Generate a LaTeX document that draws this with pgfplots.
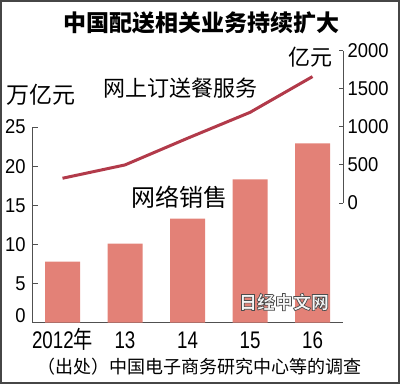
\documentclass[border=0pt]{standalone}
\usepackage{fontspec}
\setmainfont{Liberation Sans}
\newfontfamily\cjk{Noto Sans CJK SC}
\newfontfamily\numf[FakeStretch=0.92]{Liberation Sans}
\newfontfamily\xnum[FakeStretch=0.78]{Liberation Sans}
\newfontfamily\xcjk[FakeStretch=0.8]{Noto Sans CJK SC}
\usepackage{pgfplots}
\pgfplotsset{compat=1.18}
\definecolor{barc}{RGB}{227,129,119}
\definecolor{linec}{RGB}{178,58,74}
\definecolor{axc}{RGB}{80,80,80}
\definecolor{framec}{RGB}{70,70,70}
\begin{document}
\begin{tikzpicture}[x=1bp,y=1bp]
\path[use as bounding box] (0,0) rectangle (400,384);
% bars (left axis)
\begin{axis}[at={(32bp,61.3bp)}, anchor=south west,
  scale only axis, width=311bp, height=195.7bp,
  xmin=-0.488, xmax=4.488, ymin=0, ymax=25,
  axis x line=bottom, axis y line=left,
  axis line style={-, line width=0.9bp, color=axc},
  tick align=inside, major tick length=6bp,
  every tick/.style={axc, line width=0.9bp},
  /pgf/number format/assume math mode=true,
  /pgf/number format/1000 sep={},
  xtick={0,1,2,3,4},
  xticklabels={2012{\xcjk 年},13,14,15,16},
  x tick style={draw=none},
  xticklabel style={font=\xnum\fontsize{24bp}{24bp}\selectfont, anchor=base, inner sep=0pt, yshift=-25.5bp},
  ytick={5,10,15,20,25},
  extra y ticks={0},
  extra y tick style={yticklabel style={yshift=7.5bp}},
  yticklabel style={font=\numf\fontsize{20bp}{20bp}\selectfont, anchor=east, inner sep=0pt, xshift=-6.3bp},
  clip=false]
\addplot[ybar, bar width=35bp, fill=barc, draw=none] coordinates {
  (0,7.8) (1,10.1) (2,13.3) (3,18.3) (4,22.9)};
\end{axis}
% line (right axis)
\begin{axis}[at={(32bp,181bp)}, anchor=south west,
  scale only axis, width=311bp, height=152.3bp,
  xmin=-0.488, xmax=4.488, ymin=0, ymax=2000,
  axis x line=none, axis y line=right,
  axis line style={-, line width=0.9bp, color=axc},
  tick align=inside, major tick length=4bp,
  every tick/.style={axc, line width=0.9bp},
  /pgf/number format/assume math mode=true,
  /pgf/number format/1000 sep={},
  ytick={0,500,1000,1500,2000},
  yticklabel style={font=\numf\fontsize{20bp}{20bp}\selectfont, anchor=west, inner sep=0pt, xshift=4.5bp},
  clip=false]
\addplot[linec, line width=3bp, no marks] coordinates {
  (0,325) (1,500) (2,850) (3,1190) (4,1660)};
\end{axis}
% texts
\node[font=\cjk\bfseries\fontsize{23bp}{23bp}\selectfont] at (202,361.5) {中国配送相关业务持续扩大};
\node[font=\cjk\fontsize{22bp}{22bp}\selectfont] at (310,326.5) {亿元};
\node[font=\cjk\fontsize{23bp}{23bp}\selectfont] at (41,289) {万亿元};
\node[font=\cjk\fontsize{22bp}{22bp}\selectfont] at (180.5,296) {网上订送餐服务};
\node[font=\cjk\fontsize{24bp}{24bp}\selectfont] at (179,187) {网络销售};
\node[font=\cjk\fontsize{18bp}{18bp}\selectfont] at (199.5,17) {（出处）中国电子商务研究中心等的调查};
% watermark (outlined text)
\node[font=\cjk\bfseries\fontsize{18bp}{18bp}\selectfont, text=black!4] at (284,82)
  {\special{pdf:literal direct 2 Tr 0.7 w 0.3 G}日经中文网\special{pdf:literal direct 0 Tr 0.4 w}};
% frame
\draw[framec, line width=2bp] (1,1) rectangle (399,383);
\end{tikzpicture}
\end{document}
